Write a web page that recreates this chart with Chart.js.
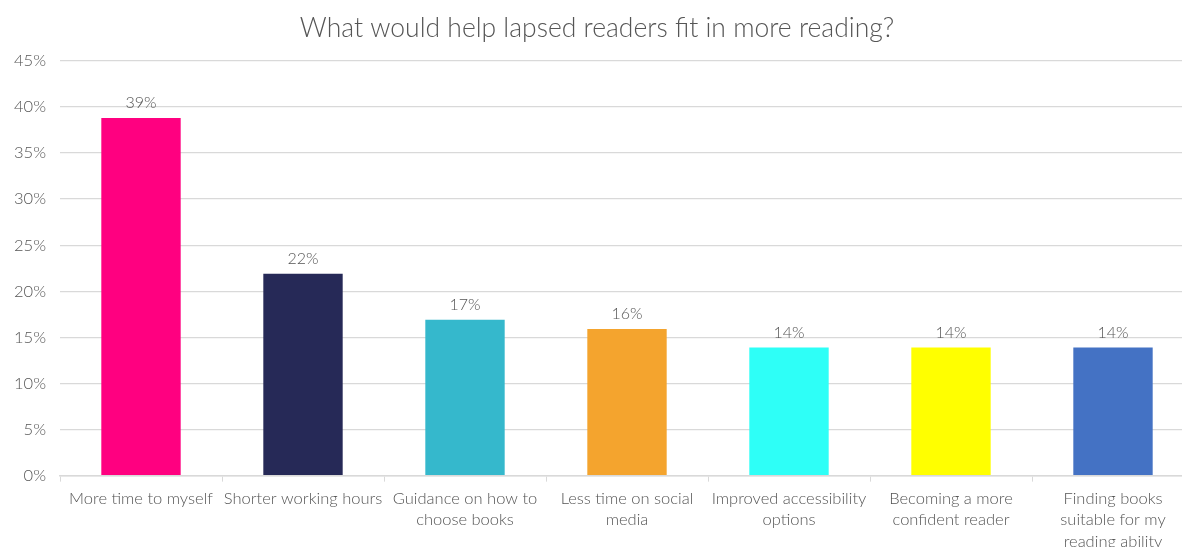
<!DOCTYPE html>
<html>
<head>
<meta charset="utf-8">
<script src="https://cdn.jsdelivr.net/npm/chart.js@4"></script>
<style>
  html, body { margin: 0; padding: 0; background: #fff; overflow: hidden; }
  #wrap { width: 1210px; height: 558px; }
</style>
</head>
<body>
<div id="wrap"><canvas id="chart"></canvas></div>
<script>
const categories = [
    ['More time to myself'],
    ['Shorter working hours'],
    ['Guidance on how to', 'choose books'],
    ['Less time on social', 'media'],
    ['Improved accessibility', 'options'],
    ['Becoming a more', 'confident reader'],
    ['Finding books', 'suitable for my', 'reading ability']
];
const values = [38.8, 21.9, 16.9, 15.9, 13.9, 13.9, 13.9];
const barColors = ['#FF0080', '#262957', '#35B8CC', '#F4A42E', '#2EFFF7', '#FFFF00', '#4472C4'];
const yTicks = [0, 5, 10, 15, 20, 25, 30, 35, 40, 45];

const textColor = '#555555';
const fontFamily = 'Lato, "Open Sans", sans-serif';

// value labels above bars
const barLabels = {
    id: 'barLabels',
    afterDatasetsDraw(chart) {
        const ctx = chart.ctx;
        const meta = chart.getDatasetMeta(0);
        ctx.save();
        ctx.font = '300 16px ' + fontFamily;
        ctx.fillStyle = textColor;
        ctx.textAlign = 'center';
        ctx.textBaseline = 'bottom';
        meta.data.forEach((bar, i) => {
            ctx.fillText(Math.round(values[i]) + '%', bar.x, bar.y - 7);
        });
        ctx.restore();
    }
};

new Chart(document.getElementById('chart'), {
    type: 'bar',
    data: {
        labels: categories,
        datasets: [{
            data: values,
            backgroundColor: barColors,
            barPercentage: 0.49,
            categoryPercentage: 1
        }]
    },
    options: {
        responsive: true,
        maintainAspectRatio: false,
        animation: false,
        layout: { padding: { top: 8, left: 0, right: 16, bottom: 0 } },
        plugins: {
            legend: { display: false },
            tooltip: { enabled: false },
            title: {
                display: true,
                text: 'What would help lapsed readers fit in more reading?',
                color: textColor,
                font: { family: fontFamily, size: 26.5, weight: 300 },
                padding: { top: 5, bottom: 16 }
            }
        },
        scales: {
            x: {
                grid: {
                    offset: true,
                    drawOnChartArea: false,
                    drawTicks: true,
                    tickLength: 6,
                    color: '#d9d9d9'
                },
                border: { color: '#d9d9d9', width: 1.5 },
                ticks: {
                    color: textColor,
                    font: { family: fontFamily, size: 16.5, weight: 300, lineHeight: 1.3 },
                    maxRotation: 0,
                    autoSkip: false,
                    padding: 6
                }
            },
            y: {
                min: 0,
                max: 45,
                afterBuildTicks(axis) {
                    axis.ticks = yTicks.map(v => ({ value: v }));
                },
                grid: { color: '#d9d9d9', drawTicks: false, lineWidth: 1.2 },
                border: { display: false },
                ticks: {
                    color: textColor,
                    font: { family: fontFamily, size: 16.5, weight: 300 },
                    padding: 14,
                    callback: v => v + '%'
                }
            }
        }
    },
    plugins: [barLabels]
});
</script>
</body>
</html>
